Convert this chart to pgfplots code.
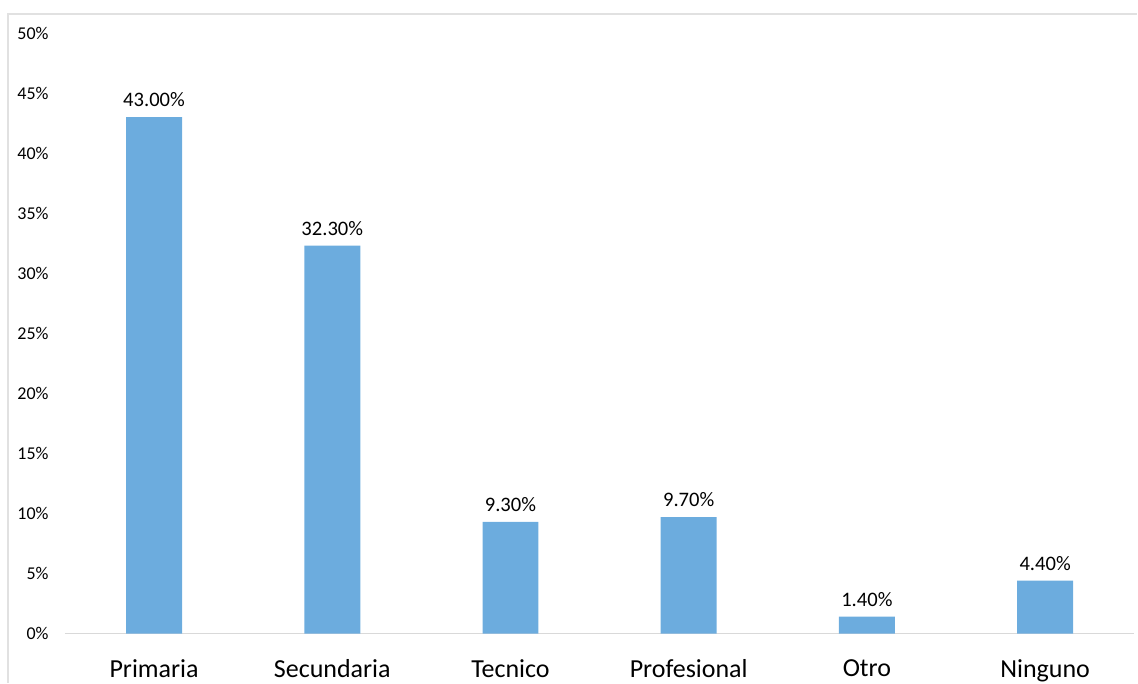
\documentclass[border=0pt]{standalone}
\usepackage{pgfplots}
\pgfplotsset{compat=1.18}
\usepackage{fontspec}
\setmainfont{Carlito}
\definecolor{barblue}{RGB}{108,172,222}
\definecolor{axisgray}{RGB}{217,217,217}
\definecolor{framegray}{RGB}{225,225,225}
\begin{document}
\begin{tikzpicture}
% page = 1138x683 px at 0.5pt per px
\path (0,0) rectangle (569pt,341.5pt);
\draw[framegray, line width=0.8pt] (4pt,0) -- (4pt,334.5pt) -- (569pt,334.5pt);
\begin{axis}[
at={(32.5pt,24.5pt)}, anchor=south west,
scale only axis,
width=535pt, height=300.5pt,
xmin=-0.5, xmax=5.5,
ymin=0, ymax=50,
axis x line*=bottom, axis y line*=left,
x axis line style={draw=axisgray, line width=0.8pt},
y axis line style={draw=none},
major tick length=0pt,
xtick={0,1,2,3,4,5},
xticklabels={Primaria,Secundaria,Tecnico,Profesional,Otro,Ninguno},
xticklabel style={font=\fontsize{13}{15}\selectfont, inner sep=0pt, anchor=north, yshift=-13pt},
ytick={0,5,...,50},
yticklabel={\pgfmathprintnumber{\tick}\%},
yticklabel style={font=\fontsize{9}{10}\selectfont, inner sep=0pt, anchor=east, xshift=-8pt},
/pgf/number format/assume math mode=true,
ybar, bar width=28pt,
nodes near coords={\pgfmathprintnumber[fixed,fixed zerofill,precision=2]{\pgfplotspointmeta}\%},
nodes near coords style={font=\fontsize{10.3}{12}\selectfont, text=black, inner sep=0pt, anchor=south, yshift=5pt},
clip=false,
]
\addplot[fill=barblue, draw=none] coordinates {(0,43.0) (1,32.3) (2,9.3) (3,9.7) (4,1.4) (5,4.4)};
\end{axis}
\end{tikzpicture}
\end{document}
